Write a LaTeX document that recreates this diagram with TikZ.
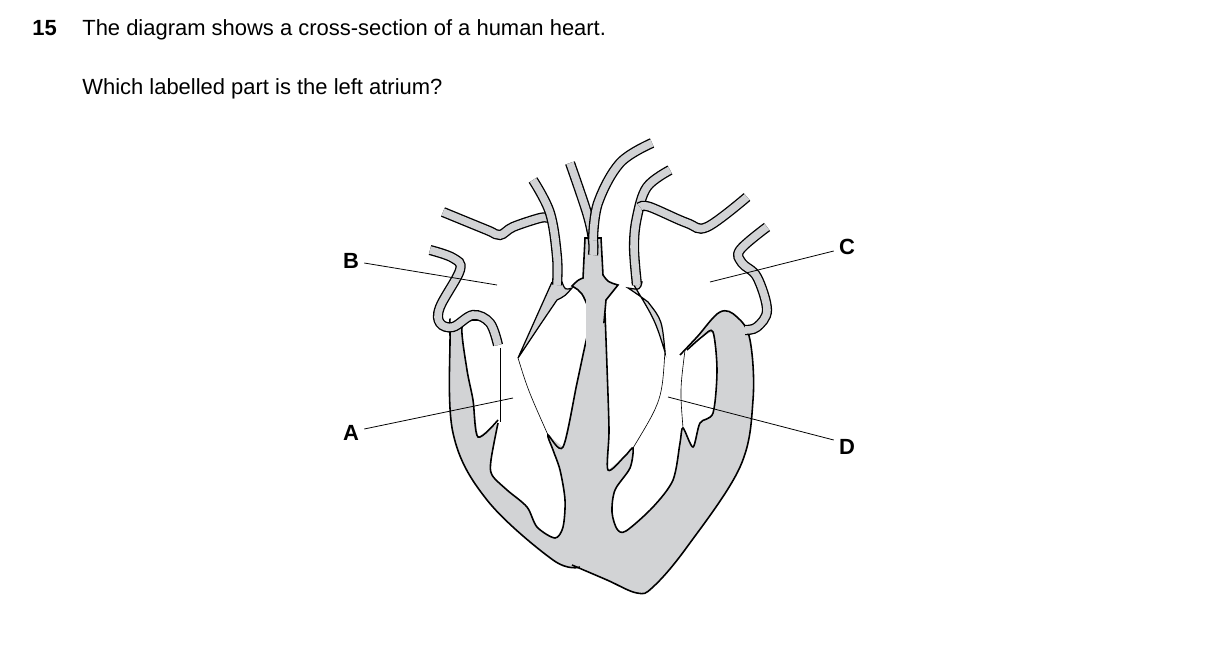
\documentclass[tikz,border=0pt]{standalone}
\usepackage{fontspec}
\setmainfont{Liberation Sans}
\begin{document}
\begin{tikzpicture}[x=0.02cm,y=-0.02cm,
  lbl/.style={font=\bfseries\fontsize{12.5}{14}\selectfont, inner sep=0pt},
  txt/.style={font=\fontsize{12.5}{14}\selectfont, inner sep=0pt, anchor=base west},
  tube/.style={draw=black, line width=0.75pt, double=hg, double distance=4.3pt, line cap=butt},
  edge/.style={draw=black, line width=0.9pt},
  thin/.style={draw=black, line width=0.35pt},
  lead/.style={draw=black, line width=0.45pt}]
\definecolor{hg}{RGB}{210,211,213}
\useasboundingbox (0,0) rectangle (1209,645);
% text
\node[txt,font=\bfseries\fontsize{12.5}{14}\selectfont] (num) at (32,36) {15};
\node[txt] (q1) at (82,36) {The diagram shows a cross-section of a human heart.};
\node[txt] (q2) at (82,95) {Which labelled part is the left atrium?};
% body
\fill[hg] plot[smooth,tension=0.6] coordinates {(450,333) (453,433) (487,500) (553,560) (580,567)}
  -- plot[smooth,tension=0.6] coordinates {(580,567) (607,580) (637,593) (653,587) (687,547) (740,467) (753,400) (750,340) (737,317) (720,312) (697,337) (687,350)}
  -- (665,350) -- (600,290) -- (520,357) -- (500,345) -- (475,318) -- cycle;
% white chambers
\fill[white] plot[smooth,tension=0.5] coordinates {(462,327) (467,370) (473,400) (478,437)}
  -- (498,423) -- plot[smooth,tension=0.5] coordinates {(498,423) (491,460) (492,475) (507,490) (527,507) (537,527) (555,538) (563,527) (565,500) (560,470) (553,450) (548,435)}
  -- (563,447) -- plot[smooth,tension=0.5] coordinates {(563,447) (577,383) (587,337) (596,305) (598,290)}
  -- (560,290) -- (520,300) -- (500,330) -- (490,320) -- (475,318) -- cycle;
\fill[white] plot[smooth,tension=0.5] coordinates {(602,290) (605,313) (607,367) (609,430) (608,470)}
  -- plot[smooth,tension=0.5] coordinates {(608,470) (625,456) (633,448) (630,468) (615,490) (612,512) (617,529) (626,531) (653,507) (673,480) (680,443) (683,428)}
  -- (693,447) -- plot[smooth,tension=0.5] coordinates {(693,447) (700,423) (713,413) (717,370) (713,332)}
  -- (700,336) -- (687,350) -- (665,350) -- (640,290) -- cycle;
% outlines
\draw[edge] plot[smooth,tension=0.6] coordinates {(450,320) (450,333) (453,433) (487,500) (553,560) (580,567)};
\draw[edge] plot[smooth,tension=0.6] coordinates {(572,565) (607,580) (637,593) (653,587) (687,547) (740,467) (753,400) (750,340) (737,317) (720,312) (697,337) (680,355)};
\draw[edge] plot[smooth,tension=0.5] coordinates {(498,345) (490,325) (475,320) (462,327) (467,370) (473,400) (478,437) (498,420)};
\draw[edge] plot[smooth,tension=0.5] coordinates {(498,423) (491,460) (492,475) (507,490) (527,507) (537,527) (555,538) (563,527) (565,500) (560,470) (553,450) (548,435) (563,447) (577,383) (587,337) (596,305)};
\draw[edge] plot[smooth,tension=0.5] coordinates {(605,313) (607,367) (609,430) (608,470) (625,456) (633,448) (630,468) (615,490) (612,512) (617,529) (626,531) (653,507) (673,480) (680,443) (683,428) (693,447) (700,423) (713,413) (717,370) (713,332) (703,336) (687,350)};
% thin valve lines
\draw[thin] (500,348) -- (500,422);
\draw[thin] (518,358) .. controls (528,390) .. (548,435);
\draw[thin] (665,350) .. controls (662,400) .. (633,448);
\draw[thin] (685,350) .. controls (680,390) .. (683,428);
% trunk / septum top
\filldraw[fill=hg,edge] (585,238) -- (583,278) .. controls (578,280) .. (572,286) .. controls (582,292) .. (590,312) -- (588,330) -- (604,322) -- (606,300) .. controls (612,292) .. (618,285) .. controls (608,282) .. (603,275) -- (601,238) -- cycle;
\fill[hg] (586,300) rectangle (603,345);
% tapered walls
\filldraw[fill=hg,edge,line width=0.7pt] (552,282) -- (562,282) .. controls (565,290) .. (572,288) .. controls (565,296) .. (557,300) .. controls (540,325) .. (518,358) .. controls (535,320) .. (552,282);
\filldraw[fill=hg,edge,line width=0.7pt] (632,282) -- (642,282) .. controls (640,290) .. (628,288) .. controls (640,296) .. (648,302) .. controls (662,320) .. (665,352) .. controls (655,320) .. (632,282);
% tubes
\draw[tube] plot[smooth,tension=0.6] coordinates {(430,250) (453,258) (460,270) (440,307) (440,323) (453,327) (473,315) (490,323) (498,345)};
\draw[tube] plot[smooth,tension=0.6] coordinates {(443,212) (487,230) (500,235) (513,227) (540,218) (548,218)};
\draw[tube] plot[smooth,tension=0.6] coordinates {(533,180) (550,213) (557,257) (557,285)};
\draw[tube] plot[smooth,tension=0.6] coordinates {(570,163) (587,213) (593,240) (593,255)};
\draw[tube] plot[smooth,tension=0.6] coordinates {(652,143) (620,163) (598,203) (593,240)};
\draw[tube] plot[smooth,tension=0.6] coordinates {(670,170) (647,187) (637,217) (634,247) (637,285)};
\draw[tube] plot[smooth,tension=0.6] coordinates {(640,207) (650,207) (687,223) (707,227) (747,197)};
\draw[tube] plot[smooth,tension=0.6] coordinates {(767,227) (740,250) (742,263) (757,277) (767,310) (757,327) (745,330)};
% leaders
\coordinate (pb) at (497,285); \coordinate (pc) at (710,282);
\coordinate (pa) at (513,398); \coordinate (pd) at (668,397);
\node[lbl] (B) at (351,261) {B};
\node[lbl] (C) at (847,247) {C};
\node[lbl] (A) at (351,433) {A};
\node[lbl] (D) at (847,447) {D};
\draw[lead] (B.east) ++(5,2) -- (pb);
\draw[lead] (C.west) ++(-5,4) -- (pc);
\draw[lead] (A.east) ++(5,-4) -- (pa);
\draw[lead] (D.west) ++(-5,-7) -- (pd);
\end{tikzpicture}
\end{document}
